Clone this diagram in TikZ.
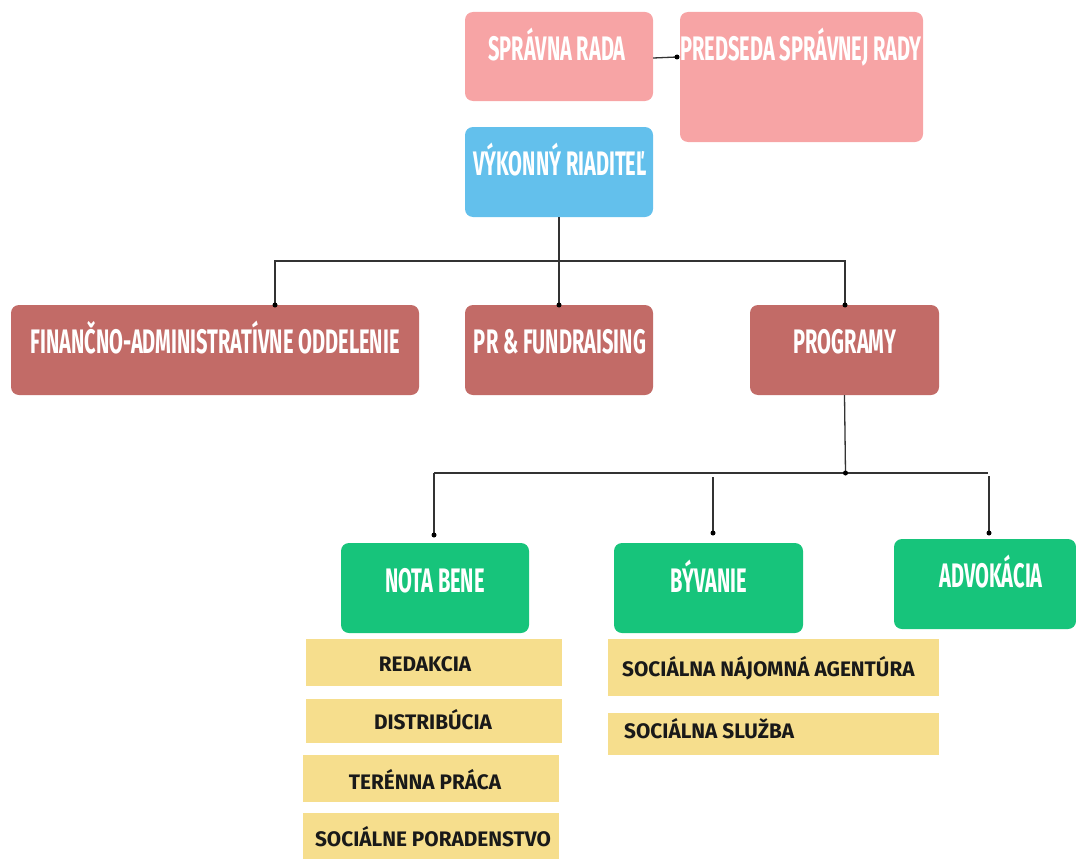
\documentclass[tikz,border=0pt]{standalone}
\usepackage{fontspec}
\newfontfamily\headfont[FakeStretch=0.59]{Fira Sans}
\newfontfamily\subfont[FakeStretch=0.99]{Fira Sans}
\definecolor{pinkc}{HTML}{F7A4A5}
\definecolor{bluec}{HTML}{63C0EC}
\definecolor{brickc}{HTML}{C26B67}
\definecolor{greenc}{HTML}{17C47B}
\definecolor{yellowc}{HTML}{F6DE8D}
\definecolor{linec}{HTML}{333333}
\tikzset{
  box/.style={rounded corners=8pt, draw=none, inner sep=0pt},
  ybox/.style={fill=yellowc, draw=none, inner sep=0pt},
  htext/.style={text=white, font=\headfont\bfseries\fontsize{34}{34}\selectfont, inner sep=0pt, anchor=base},
  stext/.style={text=black!90, font=\subfont\bfseries\fontsize{21}{21}\selectfont, inner sep=0pt, anchor=base},
  conn/.style={draw=linec, line width=1.3pt},
  dot/.style={circle, fill=black, inner sep=0pt, minimum size=5pt}
}
\begin{document}
\begin{tikzpicture}[x=1pt,y=-1pt]
\useasboundingbox (0,0) rectangle (1076,859);
% boxes
\node[box, fill=pinkc, minimum width=188pt, minimum height=89pt] (sr) at (559,56.5) {};
\node[box, fill=pinkc, minimum width=243pt, minimum height=130pt] (psr) at (801.5,77) {};
\node[box, fill=bluec, minimum width=188pt, minimum height=90pt] (vr) at (559,172) {};
\node[box, fill=brickc, minimum width=408pt, minimum height=90pt] (fin) at (215,350) {};
\node[box, fill=brickc, minimum width=188pt, minimum height=90pt] (pr) at (559,350) {};
\node[box, fill=brickc, minimum width=189pt, minimum height=90pt] (prog) at (844.5,350) {};
\node[box, fill=greenc, minimum width=188pt, minimum height=90pt] (nb) at (435,588) {};
\node[box, fill=greenc, minimum width=189pt, minimum height=90pt] (byv) at (708.5,588) {};
\node[box, fill=greenc, minimum width=182pt, minimum height=90pt] (adv) at (985,584) {};
\node[ybox, minimum width=256pt, minimum height=47pt] (red) at (434,662.5) {};
\node[ybox, minimum width=256pt, minimum height=44pt] (dis) at (434,721) {};
\node[ybox, minimum width=256pt, minimum height=47pt] (ter) at (431,778.5) {};
\node[ybox, minimum width=256pt, minimum height=46pt] (por) at (431,836) {};
\node[ybox, minimum width=331pt, minimum height=57pt] (sna) at (773.5,667.5) {};
\node[ybox, minimum width=331pt, minimum height=42pt] (ss) at (773.5,734) {};
% heading texts
\node[htext] (srt) at (557,60) {SPRÁVNA RADA};
\node[htext] (psrt) at (801,60) {PREDSEDA SPRÁVNEJ RADY};
\node[htext] (vrt) at (560,175) {VÝKONNÝ RIADITEĽ};
\node[htext] (fint) at (215,353) {FINANČNO-ADMINISTRATÍVNE ODDELENIE};
\node[htext] (prt) at (560,353) {PR \& FUNDRAISING};
\node[htext] (progt) at (845,353) {PROGRAMY};
\node[htext] (nbt) at (435,592) {NOTA BENE};
\node[htext] (byvt) at (709,592) {BÝVANIE};
\node[htext] (advt) at (991,587) {ADVOKÁCIA};
% sub texts
\node[stext] (redt) at (425,671) {REDAKCIA};
\node[stext] (dist) at (433,729) {DISTRIBÚCIA};
\node[stext] (tert) at (425,789) {TERÉNNA PRÁCA};
\node[stext] (port) at (433,846) {SOCIÁLNE PORADENSTVO};
\node[stext, anchor=base west] (snat) at (622,676) {SOCIÁLNA NÁJOMNÁ AGENTÚRA};
\node[stext, anchor=base west] (sst) at (624,738) {SOCIÁLNA SLUŽBA};
% connectors
\coordinate (c1) at (677,57);
\draw[conn] (sr.east |- 0,58) -- (c1);
\node[dot] (d1) at (c1) {};
\coordinate (vl) at (275,261);
\coordinate (vr2) at (845,261);
\coordinate (dfin) at (275,305);
\coordinate (dpr) at (559,305);
\coordinate (dprog) at (845,305);
\draw[conn] (vr.south) -- (dpr);
\draw[conn] (dfin) -- (vl) -- (vr2) -- (dprog);
\node[dot] (d2) at (dfin) {};
\node[dot] (d3) at (dpr) {};
\node[dot] (d4) at (dprog) {};
\coordinate (j) at (845.5,473);
\coordinate (hl) at (434,473);
\coordinate (hr) at (988,473);
\draw[conn] (prog.south) -- (j);
\draw[conn] (hl) -- (hr);
\node[dot] (d5) at (j) {};
\coordinate (dnb) at (434,535);
\draw[conn] (hl) -- (dnb);
\node[dot] (d6) at (dnb) {};
\coordinate (bt) at (713,477);
\coordinate (dbyv) at (713,533);
\draw[conn] (bt) -- (dbyv);
\node[dot] (d7) at (dbyv) {};
\coordinate (at) at (989,476);
\coordinate (dadv) at (989,533);
\draw[conn] (at) -- (dadv);
\node[dot] (d8) at (dadv) {};
\end{tikzpicture}
\end{document}
